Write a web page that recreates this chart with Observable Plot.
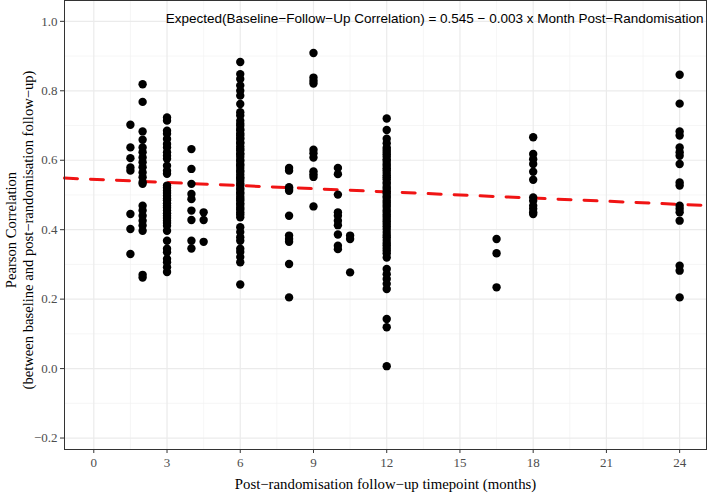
<!DOCTYPE html>
<html>
<head>
<meta charset="utf-8">
<script src="https://cdn.jsdelivr.net/npm/d3@7"></script>
<script src="https://cdn.jsdelivr.net/npm/@observablehq/plot@0.6"></script>
<style>
  html, body { margin: 0; padding: 0; background: #fff; }
  #chart svg { display: block; }
</style>
</head>
<body>
<div id="chart"></div>
<script>
// Correlations per follow-up timepoint (months)
const m1_5 = [0.702,0.637,0.606,0.579,0.570,0.445,0.402,0.330];
const m2 = [0.819,0.768,0.683,0.659,0.637,0.623,0.608,0.594,0.580,0.565,0.551,0.537,0.532,0.469,0.455,0.440,0.426,0.412,0.397,0.270,0.262];
const m3 = [0.723,0.714,0.685,0.676,0.661,0.647,0.637,0.623,0.613,0.604,0.584,0.570,0.561,0.527,0.521,0.512,0.506,0.498,0.490,0.485,0.476,0.469,0.463,0.455,0.447,0.440,0.434,0.426,0.419,0.411,0.397,0.368,0.345,0.335,0.316,0.306,0.292,0.278];
const m4 = [0.632,0.575,0.532,0.503,0.488,0.455,0.428,0.368,0.346];
const m4_5 = [0.450,0.428,0.365];
const m6 = [0.883,0.848,0.834,0.815,0.800,0.786,0.762,0.738,0.729,0.714,0.705,0.699,0.690,0.686,0.677,0.672,0.664,0.661,0.652,0.648,0.640,0.633,0.629,0.620,0.616,0.609,0.601,0.598,0.589,0.585,0.578,0.570,0.566,0.558,0.551,0.547,0.540,0.532,0.528,0.520,0.515,0.507,0.503,0.495,0.489,0.484,0.476,0.471,0.463,0.458,0.450,0.444,0.436,0.407,0.393,0.378,0.368,0.345,0.336,0.321,0.306,0.242];
const m8 = [0.578,0.570,0.522,0.517,0.512,0.440,0.383,0.373,0.365,0.301,0.205];
const m9 = [0.909,0.838,0.829,0.821,0.630,0.620,0.608,0.568,0.560,0.552,0.467];
const m10 = [0.578,0.560,0.501,0.450,0.440,0.426,0.413,0.386,0.354,0.344];
const m10_5 = [0.383,0.373,0.277];
const m12 = [0.720,0.687,0.662,0.649,0.637,0.630,0.624,0.617,0.611,0.603,0.598,0.590,0.584,0.577,0.571,0.564,0.557,0.551,0.545,0.537,0.532,0.524,0.518,0.511,0.505,0.497,0.492,0.484,0.478,0.471,0.465,0.457,0.451,0.444,0.438,0.431,0.424,0.417,0.410,0.402,0.393,0.385,0.378,0.370,0.362,0.355,0.347,0.340,0.332,0.320,0.287,0.272,0.258,0.244,0.229,0.143,0.119,0.007];
const m16_5 = [0.373,0.332,0.234];
const m18 = [0.666,0.618,0.603,0.589,0.567,0.544,0.493,0.483,0.469,0.460,0.450,0.445];
const m24 = [0.846,0.763,0.683,0.671,0.637,0.623,0.613,0.589,0.536,0.527,0.469,0.460,0.450,0.426,0.296,0.282,0.205];

const months = [1.5, 2, 3, 4, 4.5, 6, 8, 9, 10, 10.5, 12, 16.5, 18, 24];
const series = [m1_5, m2, m3, m4, m4_5, m6, m8, m9, m10, m10_5, m12, m16_5, m18, m24];

// Fitted line: Expected = 0.545 - 0.003 x month
const intercept = 0.545;
const slope = -0.003;

const xTicks = [0, 3, 6, 9, 12, 15, 18, 21, 24];
const xMinor = [1.5, 4.5, 7.5, 10.5, 13.5, 16.5, 19.5, 22.5];
const yTicks = [-0.2, 0.0, 0.2, 0.4, 0.6, 0.8, 1.0];
const yMinor = [-0.1, 0.1, 0.3, 0.5, 0.7, 0.9];

const annotation = "Expected(Baseline\u2212Follow\u2212Up Correlation) = 0.545 \u2212 0.003 x Month Post\u2212Randomisation";
const xTitle = "Post\u2212randomisation follow\u2212up timepoint (months)";
const yTitle = "Pearson Correlation\n(between baseline and post\u2212randomisation follow\u2212up)";

const data = months.flatMap((m, i) => series[i].map(v => ({month: m, r: v})));

const xDomain = [-1.2, 25.1];
const fit = xDomain.map(x => ({month: x, r: intercept + slope * x}));

const serif = "Liberation Serif";

const chart = Plot.plot({
  width: 709,
  height: 495,
  marginLeft: 64,
  marginRight: 3,
  marginTop: 0,
  marginBottom: 46,
  style: {fontFamily: serif, background: "#fff"},
  x: {domain: xDomain},
  y: {domain: [-0.233, 1.06]},
  marks: [
    Plot.gridX(xMinor, {stroke: "#f2f2f2", strokeOpacity: 1, strokeWidth: 0.7}),
    Plot.gridY(yMinor, {stroke: "#f2f2f2", strokeOpacity: 1, strokeWidth: 0.7}),
    Plot.gridX(xTicks, {stroke: "#ebebeb", strokeOpacity: 1, strokeWidth: 1.2}),
    Plot.gridY(yTicks, {stroke: "#ebebeb", strokeOpacity: 1, strokeWidth: 1.2}),
    Plot.line(fit, {x: "month", y: "r", stroke: "#f01414", strokeWidth: 3, strokeDasharray: "13,13"}),
    Plot.dot(data, {x: "month", y: "r", r: 4.2, fill: "black", stroke: "none"}),
    Plot.frame({stroke: "#333333", strokeWidth: 1}),
    Plot.axisX(xTicks, {tickSize: 4, tickPadding: 4, fontSize: 13, fontFamily: serif, color: "#4d4d4d", stroke: "#333333", label: null}),
    Plot.axisY(yTicks, {tickSize: 4, tickPadding: 3, fontSize: 13, fontFamily: serif, color: "#4d4d4d", stroke: "#333333", tickFormat: d3.format(".1f"), label: null}),
    Plot.text([annotation], {frameAnchor: "top-right", dx: -3, dy: 18, lineAnchor: "middle", textAnchor: "end", fontFamily: "Liberation Sans", fontSize: 13.5, fill: "black"}),
    Plot.text([xTitle], {frameAnchor: "bottom", dy: 35, lineAnchor: "middle", textAnchor: "middle", fontFamily: serif, fontSize: 14.8, fill: "black"}),
    Plot.text([yTitle], {frameAnchor: "left", dx: -45.5, dy: 5, rotate: -90, lineAnchor: "middle", textAnchor: "middle", fontFamily: serif, fontSize: 14.6, fill: "black", lineHeight: 1.17})
  ]
});
document.getElementById("chart").appendChild(chart);
</script>
</body>
</html>
